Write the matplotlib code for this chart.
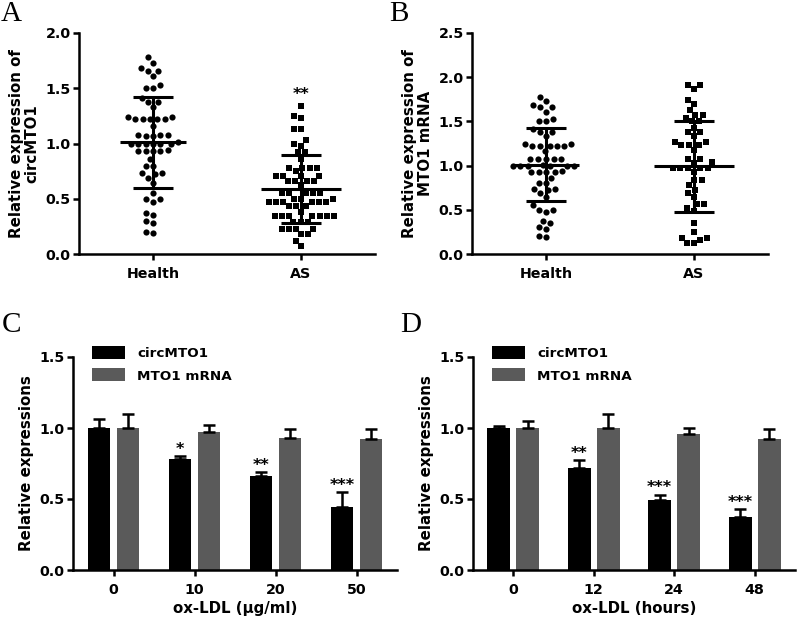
import numpy as np
import matplotlib
matplotlib.use("Agg")
import matplotlib.pyplot as plt

plt.rcParams['font.family'] = ['DejaVu Sans']
plt.rcParams['font.weight'] = 'bold'
plt.rcParams['axes.labelweight'] = 'bold'

# ---- data ----
groups = ["Health", "AS"]

health_circ = [1.78, 1.73, 1.68, 1.66, 1.66, 1.61, 1.53, 1.50, 1.50, 1.41, 1.38, 1.38,
               1.33, 1.24, 1.22, 1.22, 1.22, 1.22, 1.24, 1.22, 1.16, 1.08, 1.08, 1.07,
               1.08, 1.07, 1.00, 1.00, 1.01, 1.00, 1.00, 1.00, 1.00, 0.93, 0.93, 0.94,
               0.93, 0.93, 0.86, 0.80, 0.80, 0.73, 0.73, 0.72, 0.69, 0.64, 0.55, 0.50,
               0.50, 0.47, 0.37, 0.35, 0.30, 0.28, 0.19, 0.20]
as_circ = [1.34, 1.25, 1.23, 1.13, 1.13, 1.03, 1.00, 0.98, 0.92, 0.92, 0.86,
           0.78, 0.78, 0.78, 0.78, 0.755, 0.71, 0.71, 0.71, 0.71, 0.66, 0.66, 0.66, 0.66,
           0.62, 0.55, 0.55, 0.55, 0.55, 0.55, 0.50, 0.50, 0.50,
           0.47, 0.47, 0.47, 0.47, 0.47, 0.47, 0.43, 0.43, 0.43, 0.38,
           0.345, 0.345, 0.345, 0.345, 0.345, 0.345, 0.345, 0.29, 0.29, 0.29,
           0.23, 0.23, 0.23, 0.23, 0.18, 0.18, 0.12, 0.075]
health_mrna = list(health_circ)
as_mrna = [1.91, 1.91, 1.87, 1.745, 1.70, 1.63, 1.575, 1.575, 1.54, 1.50, 1.50, 1.42,
           1.375, 1.375, 1.33, 1.27, 1.27, 1.235, 1.235, 1.235, 1.18, 1.07, 1.07, 1.04,
           1.03, 0.97, 0.97, 0.97, 0.97, 0.97, 0.93, 0.84, 0.84, 0.78, 0.725, 0.69,
           0.64, 0.565, 0.565, 0.52, 0.49, 0.355, 0.245, 0.185, 0.185, 0.16, 0.12, 0.12]

circ_mean = [1.01, 0.59]
circ_sd = [0.41, 0.31]
mrna_mean = [1.01, 0.99]
mrna_sd = [0.41, 0.51]

dose_labels = ["0", "10", "20", "50"]
dose_circ = [1.00, 0.785, 0.663, 0.445]
dose_circ_err = [0.06, 0.017, 0.025, 0.105]
dose_mrna = [1.00, 0.973, 0.93, 0.926]
dose_mrna_err = [0.10, 0.047, 0.06, 0.064]
dose_stars = ["", "*", "**", "***"]

time_labels = ["0", "12", "24", "48"]
time_circ = [1.00, 0.72, 0.49, 0.37]
time_circ_err = [0.015, 0.053, 0.04, 0.057]
time_mrna = [1.00, 1.00, 0.96, 0.92]
time_mrna_err = [0.05, 0.10, 0.043, 0.07]
time_stars = ["", "**", "***", "***"]

GRAY = "#5a5a5a"
W, H = 797, 619
TICK_FS = 10.3
LABEL_FS = 10.8


def style_axes(ax):
    for s in ["top", "right"]:
        ax.spines[s].set_visible(False)
    for s in ["left", "bottom"]:
        ax.spines[s].set_linewidth(1.8)
    ax.tick_params(width=1.8, length=4.5, labelsize=TICK_FS)
    ax.tick_params(axis="x", pad=5)
    ax.tick_params(axis="y", pad=1.5)


def swarm_offsets(vals, ypx, xpx, d=7.3):
    # simple beeswarm: place each point closest to the centre without overlap
    vals = np.asarray(vals, float)
    xs = np.zeros(len(vals))
    placed = []
    for i in np.argsort(vals):
        y = vals[i] * ypx
        cands = [0.0]
        for px, py in placed:
            dy = abs(py - y)
            if dy < d:
                dx = np.sqrt(d * d - dy * dy)
                cands += [px + dx, px - dx]
        cands.sort(key=lambda c: (abs(c), c))
        for c in cands:
            if all((c - px) ** 2 + (y - py) ** 2 >= d * d - 1e-6 for px, py in placed):
                xs[i] = c
                placed.append((c, y))
                break
    return xs / xpx


def scatter_panel(rect, data, means, sds, ymax, ylabel, star=None):
    ax = fig.add_axes(rect)
    style_axes(ax)
    ax.set_xlim(-0.5, 1.5)
    ax.set_ylim(0, ymax)
    xpx = rect[2] * W / 2.0
    ypx = rect[3] * H / ymax
    markers = ["o", "s"]
    sizes = [20, 18]
    for k, vals in enumerate(data):
        off = swarm_offsets(vals, ypx, xpx)
        ax.scatter(k + off, vals, s=sizes[k], marker=markers[k], color="black",
                   linewidths=0, zorder=3)
        m, sd = means[k], sds[k]
        hw = 0.22 if k == 0 else 0.27
        ax.hlines(m, k - hw, k + hw, color="black", lw=2.2, zorder=4)
        ax.hlines([m - sd, m + sd], k - 0.135, k + 0.135, color="black", lw=2.2, zorder=4)
        ax.vlines(k, m - sd, m + sd, color="black", lw=2.2, zorder=4)
    ax.set_xticks([0, 1])
    ax.set_xticklabels(groups)
    ax.set_yticks(np.arange(0, ymax + 0.01, 0.5))
    ax.yaxis.set_major_formatter(matplotlib.ticker.FormatStrFormatter("%.1f"))
    ax.set_ylabel(ylabel, fontsize=LABEL_FS, labelpad=4, linespacing=1.05)
    if star:
        ax.text(1, max(data[1]) + 0.04, star, ha="center", va="bottom", fontsize=11.5)
    return ax


def bar_panel(rect, labels, circ, circ_err, mrna, mrna_err, stars, xlabel):
    ax = fig.add_axes(rect)
    style_axes(ax)
    x = np.arange(len(labels))
    w, off = 0.28, 0.18
    ax.bar(x - off, circ, w, color="black", label="circMTO1", zorder=2)
    ax.bar(x + off, mrna, w, color=GRAY, label="MTO1 mRNA", zorder=2)
    ax.errorbar(x - off, circ, yerr=[np.zeros(len(x)), circ_err], fmt="none",
                ecolor="black", elinewidth=1.8, capsize=4, capthick=1.8, zorder=3)
    ax.errorbar(x + off, mrna, yerr=[np.zeros(len(x)), mrna_err], fmt="none",
                ecolor="black", elinewidth=1.8, capsize=4, capthick=1.8, zorder=3)
    for xi, v, e, s in zip(x, circ, circ_err, stars):
        if s:
            ax.text(xi - off, v + e - 0.005, s, ha="center", va="bottom", fontsize=11.5)
    ax.set_xlim(-0.5, 3.5)
    ax.set_ylim(0, 1.5)
    ax.set_xticks(x)
    ax.set_xticklabels(labels)
    ax.set_yticks([0, 0.5, 1.0, 1.5])
    ax.yaxis.set_major_formatter(matplotlib.ticker.FormatStrFormatter("%.1f"))
    ax.set_ylabel("Relative expressions", fontsize=LABEL_FS, labelpad=4)
    ax.set_xlabel(xlabel, fontsize=LABEL_FS, labelpad=3)
    ax.legend(loc="upper left", bbox_to_anchor=(0.02, 1.11), frameon=False,
              fontsize=9.7, handlelength=2.5, handleheight=1.1, labelspacing=0.65,
              handletextpad=0.9)
    return ax


fig = plt.figure(figsize=(W / 100, H / 100), dpi=100)

scatter_panel([79 / W, 1 - 254 / H, 296 / W, 221 / H], [health_circ, as_circ],
              circ_mean, circ_sd, 2.0, "Relative expression of\ncircMTO1", star="**")
scatter_panel([472 / W, 1 - 254 / H, 296 / W, 221 / H], [health_mrna, as_mrna],
              mrna_mean, mrna_sd, 2.5, "Relative expression of\nMTO1 mRNA")
bar_panel([73 / W, 1 - 570 / H, 324 / W, 213 / H], dose_labels, dose_circ, dose_circ_err,
          dose_mrna, dose_mrna_err, dose_stars, "ox-LDL (\u03bcg/ml)")
bar_panel([473 / W, 1 - 570 / H, 322 / W, 213 / H], time_labels, time_circ, time_circ_err,
          time_mrna, time_mrna_err, time_stars, "ox-LDL (hours)")

for letter, x, y in [("A", 1, 1), ("B", 389, 1), ("C", 2, 312), ("D", 400, 312)]:
    fig.text(x / W, 1 - y / H, letter, ha="left", va="top", fontsize=21,
             family="Liberation Serif", weight="normal")

fig.savefig("out.png", dpi=100)
